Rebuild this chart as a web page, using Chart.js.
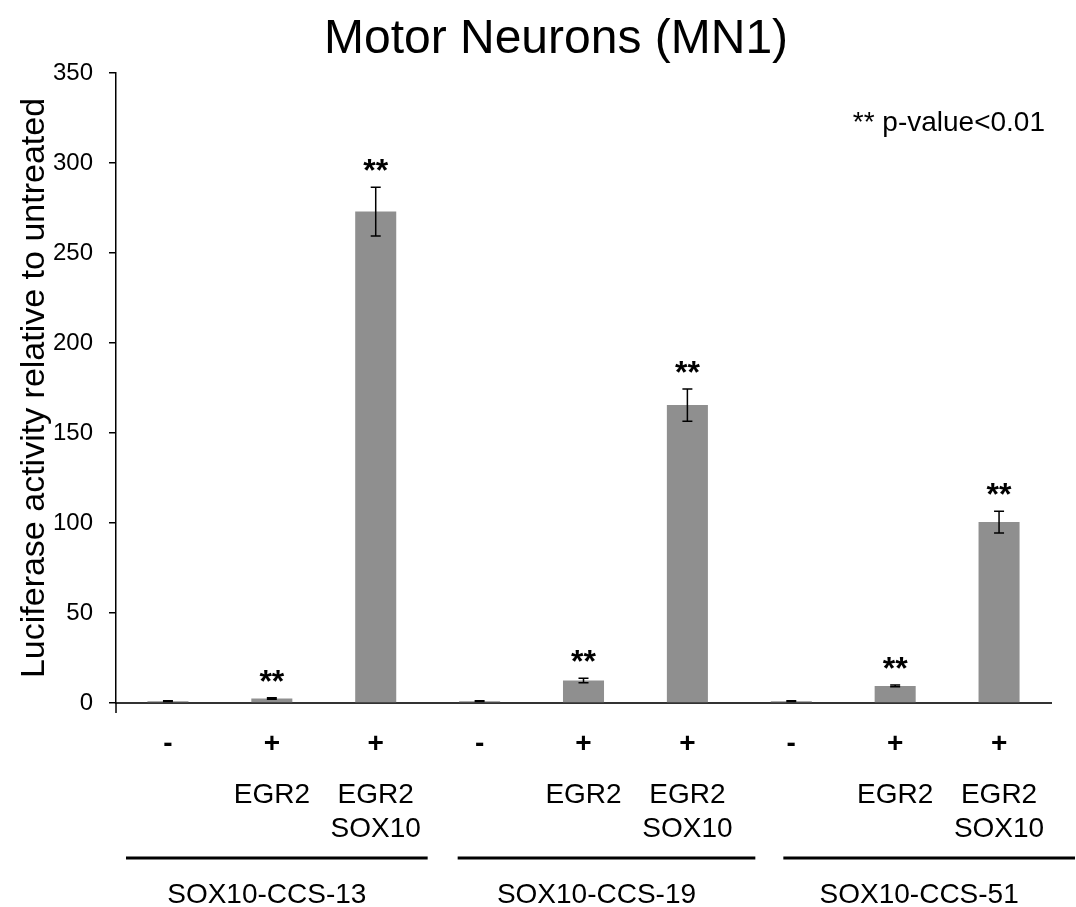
<!DOCTYPE html>
<html>
<head>
<meta charset="utf-8">
<title>Motor Neurons (MN1)</title>
<script src="https://cdn.jsdelivr.net/npm/chart.js@4.4.1/dist/chart.umd.min.js"></script>
<style>
    body { margin: 0; background: #fff; }
    canvas { display: block; }
</style>
</head>
<body>
<canvas id="mnChart" width="1076" height="907"></canvas>
<script>
// Data
const signs = ['-', '+', '+', '-', '+', '+', '-', '+', '+'];
const treatments = [[], ['EGR2'], ['EGR2', 'SOX10'], [], ['EGR2'], ['EGR2', 'SOX10'], [], ['EGR2'], ['EGR2', 'SOX10']];
const groups = ['SOX10-CCS-13', 'SOX10-CCS-19', 'SOX10-CCS-51'];
const values = [1, 2.5, 273, 1, 12.5, 165.5, 1, 9.5, 100.5];
const errors = [0.2, 0.4, 13.5, 0.2, 1.3, 9, 0.2, 0.5, 6];
const significant = [false, true, true, false, true, true, false, true, true];
const yTicks = [0, 50, 100, 150, 200, 250, 300, 350];

const FONT = '"Liberation Sans", Arial, sans-serif';

// style: inset of the group underline from the group's edges [left, right]
const groupLineInset = [[10, 0], [30, -16], [44, -24]];

const annotations = {
    id: 'annotations',
    afterDatasetsDraw(chart) {
        const ctx = chart.ctx;
        const x = chart.scales.x;
        const y = chart.scales.y;
        ctx.save();

        // error bars
        ctx.strokeStyle = '#000';
        ctx.lineWidth = 1.5;
        values.forEach((v, i) => {
            const cx = x.getPixelForValue(i);
            const top = y.getPixelForValue(v + errors[i]);
            const bot = y.getPixelForValue(v - errors[i]);
            ctx.beginPath();
            ctx.moveTo(cx, top); ctx.lineTo(cx, bot);
            ctx.moveTo(cx - 5, top); ctx.lineTo(cx + 5, top);
            ctx.moveTo(cx - 5, bot); ctx.lineTo(cx + 5, bot);
            ctx.stroke();
        });

        // significance stars
        ctx.fillStyle = '#000';
        ctx.textAlign = 'center';
        ctx.textBaseline = 'alphabetic';
        ctx.font = 'bold 32px ' + FONT;
        values.forEach((v, i) => {
            if (!significant[i]) return;
            const cx = x.getPixelForValue(i);
            const top = y.getPixelForValue(v + errors[i]);
            ctx.fillText('**', cx, top - 6);
        });
    },
    afterDraw(chart) {
        const ctx = chart.ctx;
        const x = chart.scales.x;
        const area = chart.chartArea;
        ctx.save();
        ctx.fillStyle = '#000';
        ctx.textAlign = 'center';

        // title
        ctx.font = '48px ' + FONT;
        ctx.textBaseline = 'alphabetic';
        ctx.fillText('Motor Neurons (MN1)', 556, 53);

        // note
        ctx.font = '28px ' + FONT;
        ctx.textAlign = 'right';
        ctx.fillText('** p-value<0.01', 1045, 131);

        // small tick under the origin
        ctx.strokeStyle = '#000';
        ctx.lineWidth = 1.5;
        ctx.beginPath();
        ctx.moveTo(area.left, area.bottom);
        ctx.lineTo(area.left, area.bottom + 10);
        ctx.stroke();

        // +/- row and treatment rows
        ctx.textAlign = 'center';
        signs.forEach((s, i) => {
            const cx = x.getPixelForValue(i);
            ctx.font = 'bold 28px ' + FONT;
            ctx.textBaseline = 'middle';
            ctx.fillText(s, cx, 744);
            ctx.font = '28px ' + FONT;
            ctx.textBaseline = 'alphabetic';
            treatments[i].forEach((t, r) => {
                ctx.fillText(t, cx, 803 + r * 34);
            });
        });

        // group underlines and names
        const step = (area.right - area.left) / signs.length;
        groups.forEach((g, k) => {
            const left = area.left + k * 3 * step + groupLineInset[k][0];
            const right = area.left + (k + 1) * 3 * step - groupLineInset[k][1];
            ctx.lineWidth = 3;
            ctx.beginPath();
            ctx.moveTo(left, 858);
            ctx.lineTo(right, 858);
            ctx.stroke();
            ctx.font = '28px ' + FONT;
            ctx.fillText(g, (left + right) / 2 - 10, 903);
        });
        ctx.restore();
    }
};

const ctx = document.getElementById('mnChart').getContext('2d');

new Chart(ctx, {
    type: 'bar',
    data: {
        labels: signs.map((s, i) => s + ' ' + treatments[i].join(' ')),
        datasets: [{
            label: 'Luciferase activity',
            data: values,
            backgroundColor: '#8f8f8f',
            borderWidth: 0,
            barPercentage: 0.395,
            categoryPercentage: 1
        }]
    },
    options: {
        responsive: false,
        animation: false,
        layout: {
            padding: { top: 73, right: 25, left: 0, bottom: 0 }
        },
        scales: {
            x: {
                ticks: { display: false },
                grid: { display: false },
                border: { color: '#333', width: 2 },
                afterFit: (s) => { s.height = 204; }
            },
            y: {
                min: 0,
                max: 350,
                afterBuildTicks: (s) => { s.ticks = yTicks.map(v => ({ value: v })); },
                ticks: {
                    color: '#000',
                    padding: 16,
                    font: { family: FONT, size: 24 }
                },
                grid: {
                    drawOnChartArea: false,
                    drawTicks: true,
                    tickLength: 7,
                    color: '#000',
                    lineWidth: 1.5
                },
                border: { color: '#000', width: 1.5 },
                title: {
                    display: true,
                    text: 'Luciferase activity relative to untreated',
                    color: '#000',
                    font: { family: FONT, size: 34 },
                    padding: { top: 14, bottom: 0 }
                },
                afterFit: (s) => { s.width = 116; }
            }
        },
        plugins: {
            legend: { display: false },
            title: { display: false },
            tooltip: { enabled: false }
        }
    },
    plugins: [annotations]
});
</script>
</body>
</html>
